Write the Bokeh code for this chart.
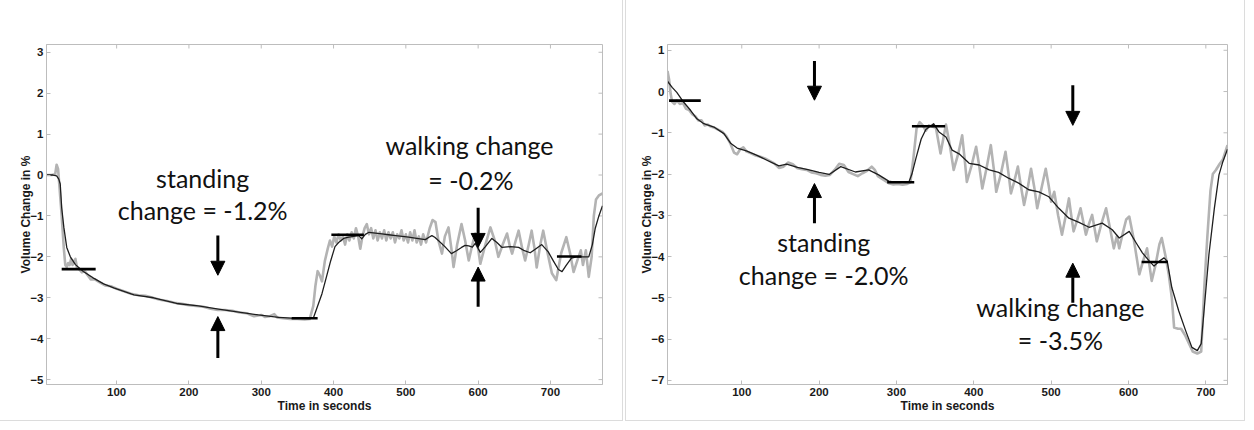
import math
from bokeh.plotting import figure
from bokeh.models import Range1d, FixedTicker, Arrow, NormalHead, ColumnDataSource, Row
from bokeh.embed import file_html
from bokeh.resources import INLINE
from bokeh.core.properties import value

# ---------------- data: left panel ----------------
left_raw_t = [
    3, 10, 15, 17, 19, 21, 24, 27, 29, 31,
    33, 35, 37, 39, 41, 43, 45, 48, 52, 56,
    60, 64, 70, 76, 84, 92, 100, 110, 120, 130,
    140, 150, 160, 170, 180, 190, 200, 210, 220, 230,
    240, 250, 260, 270, 280, 290, 300, 305, 312, 318,
    322, 330, 340, 350, 360, 367, 372, 375, 378, 381,
    384, 388, 392, 395, 398, 401, 404, 407, 410, 413,
    416, 419, 422, 425, 428, 431, 434, 437, 440, 443,
    446, 449, 452, 455, 458, 461, 464, 467, 470, 473,
    476, 479, 482, 485, 488, 491, 494, 497, 500, 503,
    506, 509, 512, 515, 518, 521, 524, 528, 533, 537,
    541, 545, 550, 554, 559, 563, 566, 571, 577, 582,
    587, 592, 596, 600, 603, 610, 617, 623, 628, 634,
    640, 644, 647, 652, 656, 661, 665, 670, 674, 678,
    681, 686, 690, 696, 702, 708, 715, 722, 727, 732,
    737, 742, 745, 749, 753, 757, 760, 763, 767, 772]
left_raw_v = [
    0.0, 0.0, 0.02, 0.25, 0.15, -0.3, -1.0, -1.8, -2.2, -2.25,
    -2.15, -2.2, -2.05, -2.2, -2.1, -2.05, -2.25, -2.3, -2.38, -2.35,
    -2.45, -2.55, -2.55, -2.62, -2.7, -2.72, -2.78, -2.84, -2.9, -2.94,
    -2.95, -3.0, -3.05, -3.08, -3.12, -3.15, -3.18, -3.2, -3.22, -3.27,
    -3.3, -3.3, -3.32, -3.36, -3.38, -3.45, -3.42, -3.47, -3.45, -3.4,
    -3.48, -3.5, -3.52, -3.52, -3.53, -3.52, -3.2, -2.7, -2.35, -2.45,
    -2.6, -2.1, -1.8, -1.6, -1.75, -1.5, -1.65, -1.45, -1.6, -1.5,
    -1.7, -1.45, -1.6, -1.4, -1.55, -1.3, -1.5, -1.8, -1.5, -1.3,
    -1.2, -1.45, -1.3, -1.55, -1.35, -1.6, -1.4, -1.55, -1.35, -1.6,
    -1.4, -1.55, -1.4, -1.65, -1.45, -1.55, -1.35, -1.6, -1.45, -1.65,
    -1.4, -1.6, -1.35, -1.65, -1.5, -1.7, -1.45, -1.65, -1.3, -1.1,
    -1.15, -1.6, -1.92, -1.5, -1.28, -1.8, -2.25, -1.7, -1.2, -1.6,
    -2.09, -1.7, -1.43, -1.8, -2.17, -1.7, -1.28, -1.6, -2.0, -1.7,
    -1.43, -1.75, -1.92, -1.6, -1.36, -1.8, -2.09, -1.7, -1.36, -1.8,
    -2.26, -1.7, -1.36, -1.9, -2.4, -2.57, -1.9, -1.52, -1.9, -2.37,
    -2.1, -1.84, -2.2, -1.84, -2.49, -2.0, -1.0, -0.6, -0.5, -0.45]

left_smooth_t = [
    3, 12, 17, 20, 22, 24, 27, 31, 36, 43,
    54, 68, 82, 96, 124, 151, 183, 213, 241, 269,
    296, 324, 342, 366, 372, 378, 384, 390, 396, 402,
    407, 414, 421, 428, 435, 439, 444, 449, 458, 467,
    476, 486, 495, 504, 515, 527, 532, 536, 540, 545,
    554, 563, 570, 577, 582, 587, 592, 596, 603, 610,
    619, 626, 633, 645, 656, 664, 672, 680, 688, 697,
    704, 711, 716, 722, 729, 736, 743, 753, 758, 762,
    767, 772]
left_smooth_v = [
    0.0, 0.0, -0.02, -0.1, -0.22, -0.8, -1.28, -1.77, -2.0, -2.19,
    -2.36, -2.52, -2.66, -2.76, -2.93, -3.0, -3.14, -3.2, -3.28, -3.35,
    -3.42, -3.48, -3.5, -3.51, -3.5, -3.2, -2.9, -2.5, -2.1, -1.75,
    -1.65, -1.55, -1.52, -1.5, -1.48, -1.56, -1.45, -1.4, -1.42, -1.44,
    -1.46, -1.48, -1.5, -1.52, -1.55, -1.58, -1.52, -1.48, -1.52, -1.6,
    -1.75, -1.92, -1.85, -1.77, -1.72, -1.73, -1.76, -1.67, -1.89, -1.75,
    -1.55, -1.65, -1.77, -1.75, -1.77, -1.85, -1.9, -1.8, -1.7, -1.88,
    -2.1, -2.31, -2.36, -2.2, -2.03, -2.0, -2.0, -2.0, -1.7, -1.3,
    -1.0, -0.75]

left_level_start = [24, 342, 397, 709]
left_level_end = [71, 378, 442, 743]
left_level_value = [-2.3, -3.5, -1.46, -1.99]

left_arrow_t = [240, 240, 600, 600]
left_arrow_from = [-1.48, -4.47, -0.8, -3.22]
left_arrow_to = [-2.45, -3.46, -1.77, -2.25]

left_notes = ["standing", "change = -1.2%", "walking change", "= -0.2%"]
left_note_t = [219, 219, 588, 590]
left_note_v = [-0.08, -0.85, 0.73, -0.12]

# ---------------- data: right panel ----------------
right_raw_t = [
    4, 6, 8, 10, 13, 16, 20, 24, 28, 32,
    36, 40, 44, 48, 52, 56, 60, 65, 70, 75,
    80, 85, 90, 94, 98, 102, 106, 112, 118, 124,
    130, 136, 142, 148, 154, 160, 166, 172, 178, 184,
    190, 196, 202, 208, 214, 220, 226, 232, 238, 244,
    250, 256, 262, 268, 272, 276, 280, 284, 290, 296,
    302, 308, 314, 318, 322, 326, 330, 334, 338, 342,
    346, 351, 357, 364, 369, 374, 380, 385, 388, 391,
    397, 403, 407, 411, 416, 422, 426, 429, 435, 441,
    445, 448, 452, 457, 461, 465, 470, 474, 478, 482,
    488, 493, 497, 500, 504, 509, 514, 519, 523, 526,
    529, 534, 538, 542, 545, 549, 553, 556, 559, 565,
    571, 576, 581, 585, 588, 593, 597, 601, 607, 614,
    619, 624, 627, 630, 635, 640, 643, 648, 652, 656,
    659, 664, 668, 673, 678, 683, 689, 694, 698, 702,
    706, 709, 713, 718, 722, 728]
right_raw_v = [
    0.5, 0.3, -0.05, -0.25, -0.3, -0.22, -0.3, -0.28, -0.42, -0.45,
    -0.55, -0.6, -0.7, -0.7, -0.82, -0.8, -0.85, -0.88, -0.93, -0.98,
    -1.08, -1.25, -1.48, -1.52, -1.4, -1.35, -1.45, -1.5, -1.55, -1.58,
    -1.62, -1.68, -1.74, -1.85, -1.82, -1.72, -1.76, -1.86, -1.88, -1.9,
    -1.96, -1.98, -2.02, -2.04, -2.02, -1.9, -1.75, -1.78, -1.95, -2.0,
    -2.05, -1.98, -1.92, -1.82, -1.9, -2.05, -2.1, -2.15, -2.22, -2.25,
    -2.24, -2.26, -2.24, -2.2, -1.6, -0.9, -0.74, -0.82, -0.95, -0.82,
    -0.85, -0.88, -1.5, -0.8, -1.3, -1.9, -1.5, -1.06, -1.6, -2.19,
    -1.8, -1.34, -1.8, -2.35, -1.9, -1.3, -1.9, -2.43, -2.0, -1.46,
    -2.0, -2.47, -2.2, -1.82, -2.3, -2.75, -2.3, -1.87, -2.3, -2.83,
    -2.3, -1.87, -2.3, -2.67, -2.43, -3.0, -3.47, -3.0, -2.59, -3.0,
    -3.39, -3.1, -2.83, -3.2, -3.47, -3.2, -2.99, -3.3, -3.63, -3.2,
    -2.83, -3.3, -3.8, -3.5, -3.8, -3.4, -3.1, -3.03, -3.6, -4.43,
    -4.1, -3.8, -4.2, -4.59, -4.2, -3.7, -3.55, -4.0, -4.43, -5.0,
    -5.72, -5.75, -5.75, -5.9, -6.1, -6.3, -6.35, -6.3, -4.75, -3.5,
    -2.4, -2.0, -1.9, -1.75, -1.65, -1.3]

right_smooth_t = [
    4, 10, 16, 25, 34, 42, 51, 64, 77, 86,
    94, 106, 119, 132, 148, 158, 172, 187, 200, 213,
    228, 247, 264, 277, 290, 300, 316, 320, 325, 332,
    338, 348, 355, 364, 372, 381, 394, 407, 420, 432,
    445, 458, 471, 484, 497, 510, 523, 536, 549, 566,
    579, 588, 601, 610, 618, 627, 633, 640, 646, 650,
    656, 665, 674, 682, 689, 694, 698, 704, 711, 717,
    722, 728]
right_smooth_v = [
    0.25, 0.1, -0.02, -0.26, -0.46, -0.66, -0.78, -0.86, -1.02, -1.26,
    -1.37, -1.44, -1.54, -1.66, -1.8, -1.76, -1.84, -1.9, -1.96, -2.01,
    -1.82, -1.95, -1.9, -2.02, -2.17, -2.2, -2.2, -2.0, -1.63, -1.15,
    -0.92, -0.78, -0.98, -1.1, -1.42, -1.51, -1.74, -1.78, -1.9, -1.96,
    -2.1, -2.22, -2.38, -2.43, -2.55, -2.83, -3.07, -3.17, -3.29, -3.19,
    -3.35, -3.55, -3.39, -3.67, -3.91, -4.11, -4.23, -4.11, -4.03, -4.11,
    -4.75, -5.32, -5.8, -6.2, -6.28, -6.11, -5.24, -3.95, -2.83, -2.02,
    -1.7, -1.4]

right_level_start = [6, 288, 320, 617]
right_level_end = [47, 323, 363, 651]
right_level_value = [-0.22, -2.2, -0.84, -4.13]

right_arrow_t = [194, 194, 528, 528]
right_arrow_from = [0.74, -3.19, 0.15, -5.12]
right_arrow_to = [-0.21, -2.23, -0.82, -4.16]

right_notes = ["standing", "change = -2.0%", "walking change", "= -3.5%"]
right_note_t = [206, 206, 512, 512]
right_note_v = [-3.64, -4.45, -5.21, -6.01]

x_ticks = [100, 200, 300, 400, 500, 600, 700]
left_y_ticks = [-5, -4, -3, -2, -1, 0, 1, 2, 3]
right_y_ticks = [-7, -6, -5, -4, -3, -2, -1, 0, 1]

# ---------------- styling ----------------
AX_COLOR = "#bdbdbd"
TICK_FONT = "Liberation Sans"
NOTE_FONT = "Lato"


def style_axis(ax):
    ax.axis_line_color = AX_COLOR
    ax.major_tick_line_color = AX_COLOR
    ax.major_tick_in = 4
    ax.major_tick_out = 0
    ax.minor_tick_line_color = None
    ax.major_label_text_font = TICK_FONT
    ax.major_label_text_font_style = "bold"
    ax.major_label_text_font_size = "11.5px"
    ax.major_label_text_color = "#1a1a1a"
    ax.major_label_standoff = 3
    ax.axis_label_text_font = TICK_FONT
    ax.axis_label_text_font_style = "bold"
    ax.axis_label_text_font_size = "12px"
    ax.axis_label_text_color = "#1a1a1a"


def panel(width, height, borders, xr, yr, yticks, raw_t, raw_v, sm_t, sm_v,
          lv0, lv1, lvy, ax_t, ay0, ay1, notes, nt, nv):
    p = figure(width=width, height=height, x_range=Range1d(*xr), y_range=Range1d(*yr),
               output_backend="svg", toolbar_location=None,
               min_border_left=borders[0], min_border_right=borders[1],
               min_border_top=borders[2], min_border_bottom=borders[3])
    p.xgrid.grid_line_color = None
    p.ygrid.grid_line_color = None
    p.outline_line_color = AX_COLOR
    p.xaxis.ticker = FixedTicker(ticks=x_ticks)
    p.yaxis.ticker = FixedTicker(ticks=yticks)
    p.xaxis.axis_label = "Time in seconds"
    p.yaxis.axis_label = "Volume Change in %"
    for ax in p.xaxis + p.yaxis:
        style_axis(ax)
    p.xaxis.axis_label_standoff = 0
    p.yaxis.axis_label_standoff = -6

    # inward tick marks on the top and right edges of the box
    p.ray(x=x_ticks, y=[yr[1]] * len(x_ticks), length=4, length_units="screen",
          angle=-math.pi / 2, line_color=AX_COLOR, line_width=1)
    p.ray(x=[xr[1]] * len(yticks), y=yticks, length=4, length_units="screen",
          angle=math.pi, line_color=AX_COLOR, line_width=1)

    p.line(raw_t, raw_v, line_color="#b3b3b3", line_width=2.6, line_join="round")
    p.line(sm_t, sm_v, line_color="#1e1e1e", line_width=1.3, line_join="round")
    p.segment(x0=lv0, x1=lv1, y0=lvy, y1=lvy, line_color="black", line_width=2.6)

    src = ColumnDataSource(dict(x0=ax_t, y0=ay0, x1=ax_t, y1=ay1))
    p.add_layout(Arrow(source=src, x_start="x0", y_start="y0", x_end="x1", y_end="y1",
                       line_color="black", line_width=3,
                       end=NormalHead(size=14, fill_color="black", line_color="black", line_width=1)))

    p.text(x=nt, y=nv, text=notes, text_font=value(NOTE_FONT), text_font_size="25px",
           text_align="center", text_baseline="middle", text_color="#111111")
    p.styles = {"outline": "1px solid #dcdcdc"}
    return p


p1 = panel(622, 420, (46, 20, 44, 35), (3, 772), (-5.12, 3.19), left_y_ticks,
           left_raw_t, left_raw_v, left_smooth_t, left_smooth_v,
           left_level_start, left_level_end, left_level_value,
           left_arrow_t, left_arrow_from, left_arrow_to,
           left_notes, left_note_t, left_note_v)
p2 = panel(618, 420, (41, 17, 42, 36), (4, 728), (-7.1, 1.14), right_y_ticks,
           right_raw_t, right_raw_v, right_smooth_t, right_smooth_v,
           right_level_start, right_level_end, right_level_value,
           right_arrow_t, right_arrow_from, right_arrow_to,
           right_notes, right_note_t, right_note_v)

layout = Row(children=[p1, p2], spacing=4)
open("out.html", "w").write(file_html(layout, INLINE))
